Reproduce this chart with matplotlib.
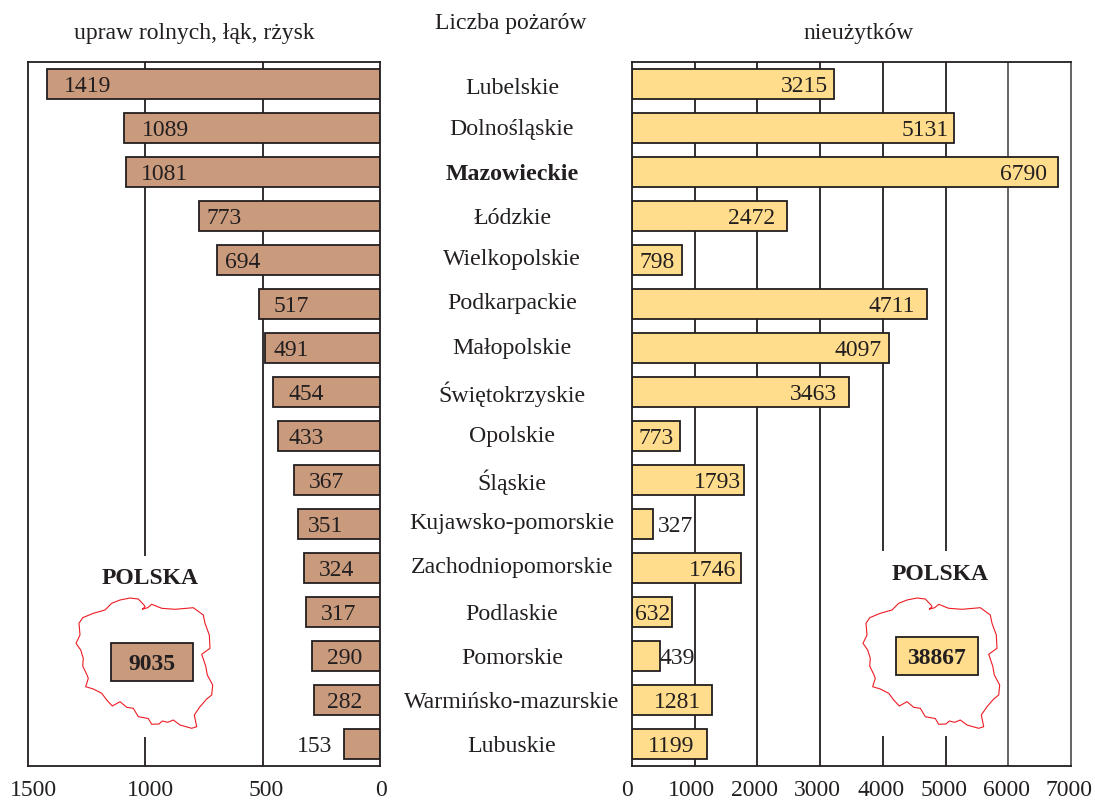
import matplotlib
matplotlib.use('Agg')
import matplotlib.pyplot as plt
from matplotlib.lines import Line2D
from matplotlib.patches import Rectangle
from matplotlib.transforms import ScaledTranslation

W, H = 1095, 800
plt.rcParams['font.family'] = ['Liberation Serif', 'DejaVu Serif']
plt.rcParams['font.size'] = 17

DARK = '#231F20'
GREY = '#58585A'
BROWN = '#C99A7C'
YELLOW = '#FFDD8C'
LW = 1.3

regions = ['Lubelskie', 'Dolnośląskie', 'Mazowieckie', 'Łódzkie', 'Wielkopolskie',
           'Podkarpackie', 'Małopolskie', 'Świętokrzyskie', 'Opolskie', 'Śląskie',
           'Kujawsko-pomorskie', 'Zachodniopomorskie', 'Podlaskie', 'Pomorskie',
           'Warmińsko-mazurskie', 'Lubuskie']
crops = [1419, 1089, 1081, 773, 694, 517, 491, 454, 433, 367, 351, 324, 317, 290, 282, 153]
wasteland = [3215, 5131, 6790, 2472, 798, 4711, 4097, 3463, 773, 1793, 327, 1746, 632, 439, 1281, 1199]
total_crops = 9035
total_wasteland = 38867

# where the value labels sit, in axis units
crops_label_x = [1248, 916, 916, 665, 584, 379, 379, 315, 315, 230, 230, 183, 175, 149, 149, 277]
waste_label_x = [2743, 4673, 6236, 1914, 399, 4147, 3604, 2887, 383, 1356, 686, 1292, 335, 718, 734, 622]
# region names are not evenly spaced in the original (pixels from top)
region_y = [86, 127, 173, 217, 258, 302, 346, 392, 434, 480, 522, 566, 612, 657, 700, 744]

# outline of Poland, pixels in the left panel
outline_x = [142.7, 145, 144, 138.3, 130, 120, 111.7, 105, 93.3, 82.7, 79, 80, 76, 80.7, 83.3, 82.7,
             86.7, 88.3, 85.7, 93.3, 101.7, 106.7, 112.3, 120, 126.7, 133.3, 138.3, 148.3,
             151.7, 159, 162.3, 167.7, 173.3, 180, 191.7, 196.7, 194.3, 200, 206.7, 211.7, 212.7,
             207.3, 205.7, 201.7, 210, 209.3, 205, 203.3, 193.3, 175, 161.7, 151.7, 147.7, 142.7]
outline_y = [609, 606.7, 605, 599, 598, 600, 603.3, 610, 613.3, 617.7, 623.3, 635, 643.3, 650, 658.3, 666,
             674.3, 678.3, 686.7, 689, 693.3, 700, 706, 701.7, 707.3, 708.3, 716.7, 718.5,
             724.3, 724, 721, 722.3, 720, 725, 728.3, 726.7, 715, 706.7, 699, 695, 685,
             675, 666, 654.3, 648.3, 635, 623.3, 615, 607.7, 609.3, 608.3, 604.3, 607.7, 609]


def fx(px):
    return px / W


def fy(py):
    return 1 - py / H


def make_axes(left, right):
    ax = fig.add_axes([fx(left), fy(766), (right - left) / W, 704 / H])
    ax.set_ylim(15.5, -0.5)
    ax.set_yticks([])
    ax.tick_params(axis='x', length=0, pad=10, labelsize=17, labelcolor=DARK)
    for s in ax.spines.values():
        s.set_linewidth(LW)
        s.set_color(DARK)
    return ax


def shift_ticks(ax, offsets):
    for lab, dx in zip(ax.get_xticklabels(), offsets):
        lab.set_transform(lab.get_transform() + ScaledTranslation(dx / 100, 0, fig.dpi_scale_trans))


def polska(cx, title_y, box, value, color, dx):
    fig.text(fx(cx), fy(title_y), 'POLSKA', fontsize=17, fontweight='bold', color=DARK, ha='center', va='center')
    fig.add_artist(Line2D([fx(x + dx) for x in outline_x], [fy(y) for y in outline_y],
                          color='#ED1C24', lw=0.8, transform=fig.transFigure))
    x0, y0, x1, y1 = box
    fig.add_artist(Rectangle((fx(x0), fy(y1)), (x1 - x0) / W, (y1 - y0) / H, facecolor=color,
                             edgecolor=DARK, lw=LW, transform=fig.transFigure))
    fig.text(fx((x0 + x1) / 2), fy((y0 + y1) / 2 + 2), str(value), fontsize=17, fontweight='bold', color=DARK,
             ha='center', va='center')


fig = plt.figure(figsize=(W / 100, H / 100), dpi=100)

# left panel
ax1 = make_axes(28, 380)
ax1.set_xlim(1500, 0)
ax1.vlines([1000, 1000], [-0.5, 14.84], [10.73, 15.5], color=DARK, lw=LW, zorder=1)
ax1.vlines([500], -0.5, 15.5, color=DARK, lw=LW, zorder=1)
ax1.barh(range(16), crops, height=0.67, color=BROWN, edgecolor=DARK, lw=LW, zorder=2)
for i, v in enumerate(crops):
    ax1.text(crops_label_x[i], i + 0.06, str(v), ha='center', va='center', fontsize=17, color=DARK, zorder=3)
ax1.set_xticks([1500, 1000, 500, 0])
ax1.set_xticklabels(['1500', '1000', '500', '0'])
shift_ticks(ax1, [5, 5, 4, 1])

# right panel
ax2 = make_axes(632, 1071)
ax2.set_xlim(0, 7000)
ax2.spines['right'].set_color(GREY)
ax2.vlines([1000, 2000, 3000], -0.5, 15.5, color=DARK, lw=LW, zorder=1)
ax2.vlines([6000], -0.5, 15.5, color=GREY, lw=LW, zorder=1)
ax2.vlines([4000, 5000], -0.5, 10.61, color=DARK, lw=LW, zorder=1)
ax2.vlines([4000, 5000], 14.82, 15.5, color=DARK, lw=LW, zorder=1)
ax2.barh(range(16), wasteland, height=0.67, color=YELLOW, edgecolor=DARK, lw=LW, zorder=2)
for i, v in enumerate(wasteland):
    ax2.text(waste_label_x[i], i + 0.06, str(v), ha='center', va='center', fontsize=17, color=DARK, zorder=3)
ax2.set_xticks(range(0, 8000, 1000))
ax2.set_xticklabels([str(t) for t in range(0, 8000, 1000)])
shift_ticks(ax2, [-5, -3, -3, -3, -2, -2, -2, -2])

# headers and region names between the panels
fig.text(fx(194), fy(34), 'upraw rolnych, łąk, rżysk', fontsize=17, color=DARK, ha='center', va='center')
fig.text(fx(511), fy(23), 'Liczba pożarów', fontsize=17, color=DARK, ha='center', va='center')
fig.text(fx(858), fy(34), 'nieużytków', fontsize=17, color=DARK, ha='center', va='center')
for name, y in zip(regions, region_y):
    weight = 'bold' if name == 'Mazowieckie' else 'normal'
    fig.text(fx(512), fy(y + 2), name, fontsize=17.2, fontweight=weight, color=DARK, ha='center', va='center')

polska(150, 578, (111, 643, 193, 681), total_crops, BROWN, 0)
polska(940, 574, (896, 637, 978, 675), total_wasteland, YELLOW, 787)

fig.savefig('out.png', dpi=100)
